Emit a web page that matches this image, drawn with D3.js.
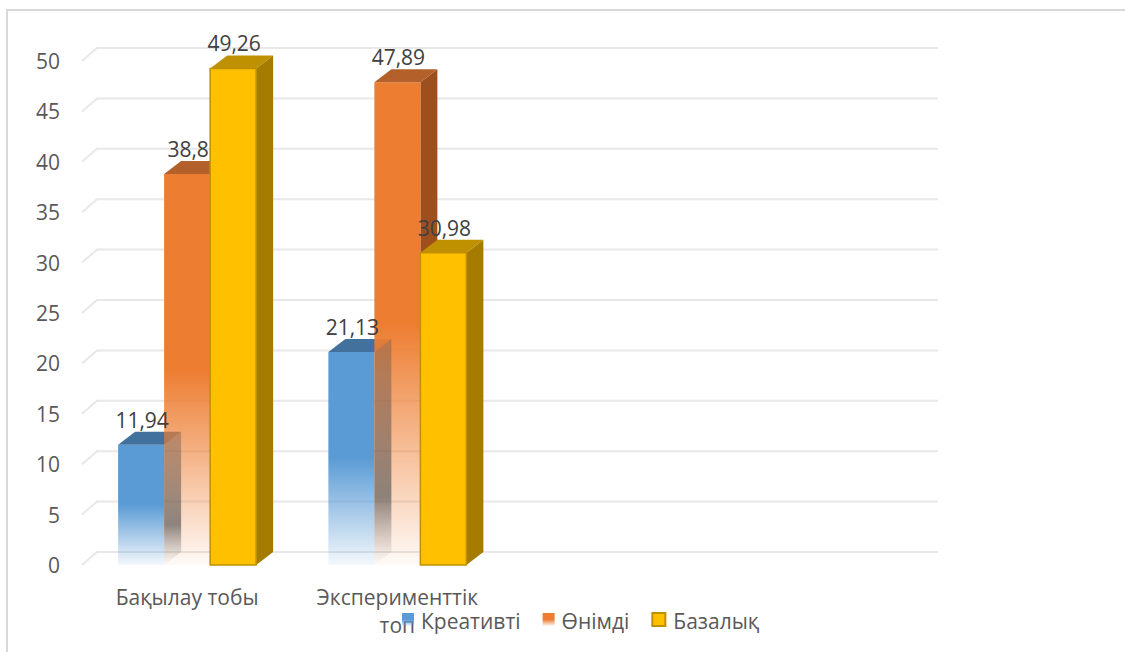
<!DOCTYPE html>
<html><head><meta charset="utf-8">
<script src="https://cdn.jsdelivr.net/npm/d3@7"></script>
<style>
body{margin:0;background:#fff}
svg{display:block}
text{font-family:"Open Sans",sans-serif}
</style>
</head><body>
<svg id="chart" width="1125" height="652"></svg>
<script>
// ---- data ----
const categories = ["Бақылау тобы", "Эксперименттік топ"];
const seriesNames = ["Креативті", "Өнімді", "Базалық"];
const creativeValues = [11.94, 21.13];
const productiveValues = [38.8, 47.89];
const basicValues = [49.26, 30.98];
const yTicks = [0, 5, 10, 15, 20, 25, 30, 35, 40, 45, 50];

const seriesValues = [creativeValues, productiveValues, basicValues];

// ---- layout ----
const FS = 21;
const svg = d3.select("#chart");
const y = d3.scaleLinear().domain([0, 50]).range([565, 61]);
const slotCount = 4;
const xSlot = d3.scaleBand().domain(d3.range(slotCount)).range([82, 923]);
const xSeries = d3.scaleBand().domain(seriesNames).range([0, xSlot.bandwidth()])
  .paddingInner(0).paddingOuter(0.785);
const DX = 17, DY = 13;   // bar depth
const GDX = 15, GDY = 13; // wall depth
const gridRight = 938;

const styles = {
  "Креативті": {front: "#5B9BD5", top: "#41719C"},
  "Өнімді": {front: "#ED7D31", top: "#B3602A", side: "#9E4F1E"},
  "Базалық": {front: "#FFC000", top: "#BF9000", side: "#A67C00", stroke: "#BF9000"}
};

const defs = svg.append("defs");
function fadeGrad(id, color, endOp) {
  const g = defs.append("linearGradient").attr("id", id)
    .attr("x1", 0).attr("y1", 0).attr("x2", 0).attr("y2", 1);
  g.append("stop").attr("offset", 0).attr("stop-color", color).attr("stop-opacity", 1);
  g.append("stop").attr("offset", 0.5).attr("stop-color", color).attr("stop-opacity", 1);
  g.append("stop").attr("offset", 1).attr("stop-color", color).attr("stop-opacity", endOp);
}
fadeGrad("gBlue", "#5B9BD5", 0.07);
fadeGrad("gOrange", "#ED7D31", 0.04);
fadeGrad("gOrangeSide", "#9E4F1E", 0.04);
const sg = defs.append("linearGradient").attr("id", "gBlueSide")
  .attr("x1", 0).attr("y1", 0).attr("x2", 0).attr("y2", 1);
[[0, "#6a5a55", 0.38], [0.35, "#5a4f4c", 0.5], [0.7, "#555555", 0.66], [1, "#888888", 0]]
  .forEach(([o, c, a]) => sg.append("stop").attr("offset", o).attr("stop-color", c).attr("stop-opacity", a));

// ---- frame ----
svg.append("path").attr("d", "M7,652 L7,10 L1125,10")
  .attr("fill", "none").attr("stroke", "#D9D9D9").attr("stroke-width", 2);

// ---- gridlines ----
svg.append("g").selectAll("path").data(yTicks).join("path")
  .attr("d", t => `M82,${y(t)} L${82 + GDX},${y(t) - GDY} L${gridRight},${y(t) - GDY}`)
  .attr("fill", "none").attr("stroke", "#E8E8E8").attr("stroke-width", 2);

// ---- y tick labels ----
svg.append("g").selectAll("text").data(yTicks).join("text")
  .attr("x", 60).attr("y", t => y(t) + 8)
  .attr("text-anchor", "end").attr("font-size", FS).attr("fill", "#595959")
  .text(t => t);

// ---- bars ----
const barsG = svg.append("g");
function geom(ci, si) {
  const x0 = xSlot(ci) + xSeries(seriesNames[si]);
  const x1 = x0 + xSeries.bandwidth();
  const yt = y(seriesValues[si][ci]);
  const yb = y(0);
  return {x0, x1, yt, yb};
}
function frontPath(g) { return `M${g.x0},${g.yt} L${g.x1},${g.yt} L${g.x1},${g.yb} L${g.x0},${g.yb} Z`; }
function topPath(g) { return `M${g.x0},${g.yt} L${g.x0 + DX},${g.yt - DY} L${g.x1 + DX},${g.yt - DY} L${g.x1},${g.yt} Z`; }
function sidePath(g) { return `M${g.x1},${g.yt} L${g.x1 + DX},${g.yt - DY} L${g.x1 + DX},${g.yb - DY} L${g.x1},${g.yb} Z`; }

categories.forEach((cat, ci) => {
  const gB = geom(ci, 0), gO = geom(ci, 1), gY = geom(ci, 2);
  barsG.append("path").attr("d", frontPath(gB)).attr("fill", "url(#gBlue)");
  barsG.append("path").attr("d", topPath(gB)).attr("fill", styles["Креативті"].top);
  barsG.append("path").attr("d", sidePath(gO)).attr("fill", "url(#gOrangeSide)");
  barsG.append("path").attr("d", frontPath(gO)).attr("fill", "url(#gOrange)");
  barsG.append("path").attr("d", topPath(gO)).attr("fill", styles["Өнімді"].top);
  barsG.append("path").attr("d", sidePath(gB)).attr("fill", "url(#gBlueSide)");
  const sY = styles["Базалық"];
  barsG.append("path").attr("d", sidePath(gY)).attr("fill", sY.side);
  barsG.append("path").attr("d", topPath(gY)).attr("fill", sY.top);
  barsG.append("path").attr("d", frontPath(gY)).attr("fill", sY.front)
    .attr("stroke", sY.stroke).attr("stroke-width", 1.5);
});

// ---- value labels ----
const labelData = [];
seriesValues.forEach((vals, si) => vals.forEach((v, ci) => labelData.push({si, ci, v})));
svg.append("g").selectAll("text").data(labelData).join("text")
  .attr("x", d => { const g = geom(d.ci, d.si); return (g.x0 + g.x1) / 2 + 1; })
  .attr("y", d => y(d.v) - 17)
  .attr("text-anchor", "middle").attr("font-size", FS).attr("fill", "#404040")
  .text(d => String(d.v).replace(".", ","));

// ---- category labels (wrapped) ----
const catG = svg.append("g");
categories.forEach((cat, ci) => {
  const cx = xSlot(ci) + xSlot.bandwidth() / 2;
  const words = cat.split(" ");
  const t = catG.append("text").attr("x", cx).attr("y", 605)
    .attr("text-anchor", "middle").attr("font-size", FS).attr("fill", "#595959");
  const lines = [];
  let line = [];
  words.forEach(w => {
    t.text([...line, w].join(" "));
    if (line.length && t.node().getComputedTextLength() > 180) { lines.push(line.join(" ")); line = [w]; }
    else line.push(w);
  });
  lines.push(line.join(" "));
  t.text(null);
  lines.forEach((l, i) => t.append("tspan").attr("x", cx).attr("y", 605 + i * 28).text(l));
});

// ---- legend ----
const leg = svg.append("g");
let lx = 402;
const legFills = ["url(#gBlue)", "url(#gOrange)", "#FFC000"];
seriesNames.forEach((name, si) => {
  if (si === 2) {
    leg.append("rect").attr("x", lx + 1).attr("y", 613).attr("width", 13).attr("height", 13)
      .attr("fill", legFills[si]).attr("stroke", "#BF9000").attr("stroke-width", 2);
    lx += 15;
  } else {
    leg.append("rect").attr("x", lx).attr("y", 613).attr("width", 12).attr("height", 13)
      .attr("fill", legFills[si]);
    lx += 12;
  }
  lx += 7;
  const t = leg.append("text").attr("x", lx).attr("y", 629).attr("font-size", FS)
    .attr("fill", "#595959").text(name);
  lx += t.node().getComputedTextLength() + 22;
});
</script>
</body></html>
